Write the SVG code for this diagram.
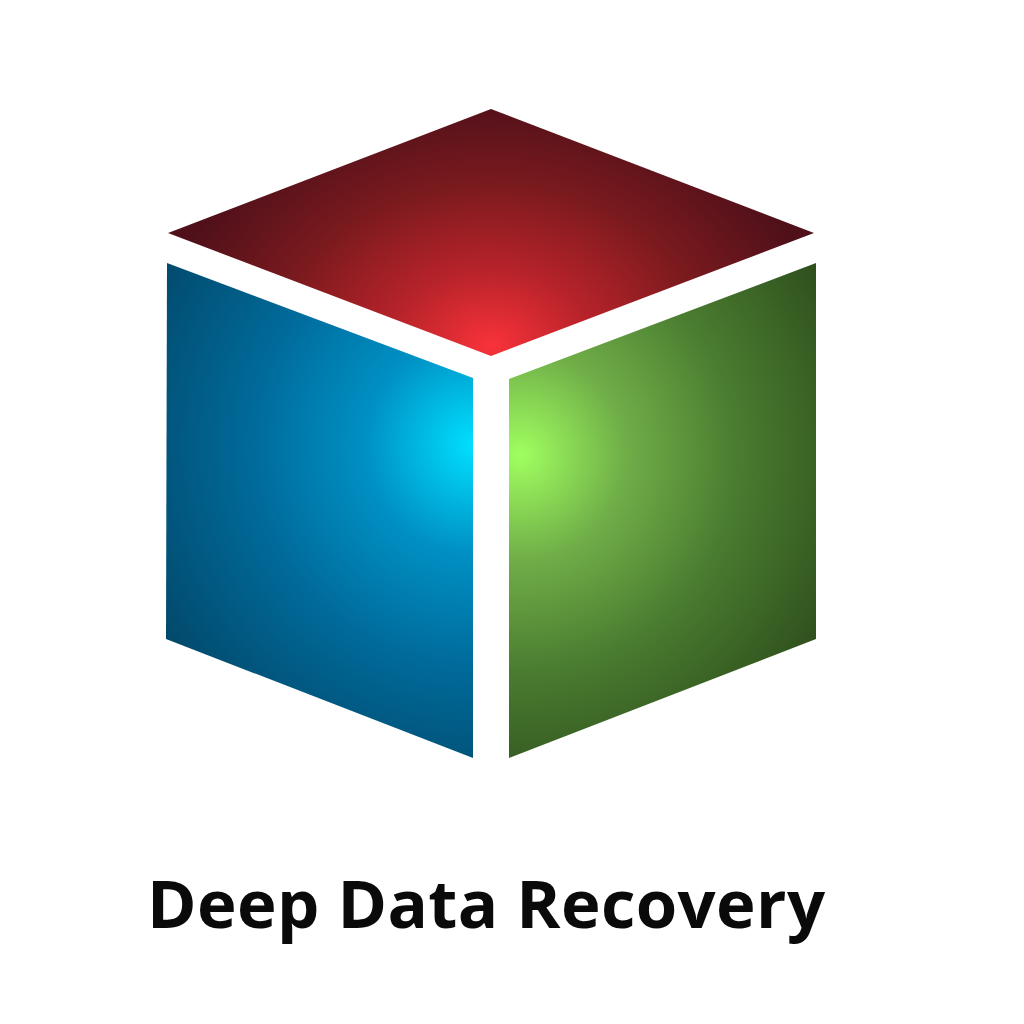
<svg xmlns="http://www.w3.org/2000/svg" width="1024" height="1024" viewBox="0 0 1024 1024">
<defs>
<radialGradient id="r" gradientUnits="userSpaceOnUse" cx="491" cy="345" r="330" gradientTransform="translate(491 345) scale(1 0.75) translate(-491 -345)">
<stop offset="0" stop-color="#f8323a"/><stop offset="0.3" stop-color="#b8232a"/><stop offset="0.65" stop-color="#7a1a1e"/><stop offset="1" stop-color="#50101a"/>
</radialGradient>
<radialGradient id="b" gradientUnits="userSpaceOnUse" cx="474" cy="445" r="360">
<stop offset="0" stop-color="#00e0ff"/><stop offset="0.3" stop-color="#0090c4"/><stop offset="0.62" stop-color="#006a9a"/><stop offset="1" stop-color="#024a6c"/>
</radialGradient>
<radialGradient id="g" gradientUnits="userSpaceOnUse" cx="520" cy="455" r="350">
<stop offset="0" stop-color="#a0ff60"/><stop offset="0.3" stop-color="#70ae48"/><stop offset="0.62" stop-color="#4a7c30"/><stop offset="1" stop-color="#2f501d"/>
</radialGradient>
</defs>
<rect width="1024" height="1024" fill="#fff"/>
<g id="cube">
<polygon id="top" points="491,109 814,233 491,356 168,233" fill="url(#r)"/>
<polygon id="left" points="167,263 473,378 473,758 166,639" fill="url(#b)"/>
<polygon id="right" points="509,379 816,263 816,639 509,758" fill="url(#g)"/>
</g>
<text x="147" y="928" textLength="678" font-family="'Open Sans','Noto Sans',sans-serif" font-weight="700" font-size="67" fill="#0a0a0a">Deep Data Recovery</text>
</svg>
